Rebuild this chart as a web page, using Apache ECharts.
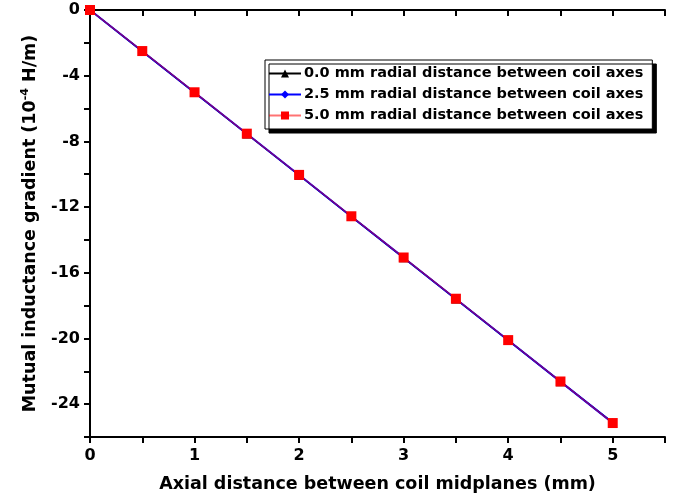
<!DOCTYPE html>
<html>
<head>
<meta charset="utf-8">
<script src="https://cdn.jsdelivr.net/npm/echarts@6/dist/echarts.min.js"></script>
<style>
  html, body { margin: 0; padding: 0; background: #fff; }
  #chart { width: 679px; height: 501px; }
</style>
</head>
<body>
<div id="chart"></div>
<script>
// axial distance (mm)
var xVals = [0, 0.5, 1, 1.5, 2, 2.5, 3, 3.5, 4, 4.5, 5];
// gradient values (10^-4 H/m)
var r00 = [0, -2.52, -5.03, -7.55, -10.06, -12.58, -15.09, -17.6, -20.12, -22.63, -25.13];
var r25 = [0, -2.51, -5.02, -7.54, -10.05, -12.57, -15.08, -17.6, -20.11, -22.63, -25.14];
var r50 = [0, -2.5, -5.01, -7.53, -10.04, -12.56, -15.07, -17.58, -20.1, -22.62, -25.15];
var names = [
  "0.0 mm radial distance between coil axes",
  "2.5 mm radial distance between coil axes",
  "5.0 mm radial distance between coil axes"
];

function pairs(v) {
  return xVals.map(function (x, i) { return [x, v[i]]; });
}

var font = "DejaVu Sans";

var chart = echarts.init(document.getElementById("chart"));

var option = {
  animation: false,
  backgroundColor: "#fff",
  textStyle: { fontFamily: font },
  grid: { left: 90, right: 14, top: 10, bottom: 64, containLabel: false },
  legend: {
    left: 265, top: 60,
    orient: "vertical",
    itemWidth: 32, itemHeight: 10, itemGap: 6,
    padding: [6, 9, 6, 3],
    backgroundColor: "#fff",
    borderColor: "#000", borderWidth: 1,
    shadowColor: "#000", shadowBlur: 0, shadowOffsetX: 4, shadowOffsetY: 4,
    textStyle: { fontFamily: font, fontWeight: "bold", fontSize: 14.5, color: "#000", padding: [0, 0, 0, -2] },
    data: names
  },
  xAxis: [{
    type: "value", min: 0, max: 5.5, interval: 0.5,
    name: "Axial distance between coil midplanes (mm)",
    nameLocation: "middle", nameGap: 38,
    nameTextStyle: { fontFamily: font, fontWeight: "bold", fontSize: 17.5, color: "#000" },
    axisLine: { onZero: false, lineStyle: { color: "#000", width: 2 } },
    axisTick: { inside: false, length: 6, lineStyle: { color: "#000", width: 2 } },
    axisLabel: {
      fontFamily: font, fontWeight: "bold", fontSize: 16, color: "#000", margin: 11,
      formatter: function (v) { return v % 1 === 0 ? String(v) : ""; }
    },
    splitLine: { show: false }
  }, {
    type: "value", min: 0, max: 5.5, interval: 0.5, position: "top",
    axisLine: { lineStyle: { color: "#000", width: 2 } },
    axisTick: { inside: true, length: 6, lineStyle: { color: "#000", width: 2 } },
    axisLabel: { show: false },
    splitLine: { show: false }
  }],
  yAxis: [{
    type: "value", min: -26, max: 0, interval: 2,
    name: "Mutual inductance gradient (10{sup|-4} H/m)",
    nameLocation: "middle", nameGap: 50, nameRotate: 90,
    nameTextStyle: {
      fontFamily: font, fontWeight: "bold", fontSize: 17.5, color: "#000",
      rich: { sup: { fontFamily: font, fontWeight: "bold", fontSize: 11, color: "#000", verticalAlign: "top", padding: [0, 0, 9, 0] } }
    },
    axisLine: { onZero: false, lineStyle: { color: "#000", width: 2 } },
    axisTick: { inside: false, length: 6, lineStyle: { color: "#000", width: 2 } },
    axisLabel: {
      fontFamily: font, fontWeight: "bold", fontSize: 16, color: "#000", margin: 10,
      formatter: function (v) { return v % 4 === 0 ? String(v) : ""; }
    },
    splitLine: { show: false }
  }, {
    type: "value", min: -26, max: 0, interval: 2, position: "right",
    axisLine: { lineStyle: { color: "#000", width: 2 } },
    axisTick: { inside: true, length: 6, lineStyle: { color: "#000", width: 2 } },
    axisLabel: { show: false },
    splitLine: { show: false }
  }],
  series: [{
    name: names[0], type: "line", data: pairs(r00),
    symbol: "triangle", symbolSize: 9,
    lineStyle: { color: "#000", width: 1.5 },
    itemStyle: { color: "#000" }
  }, {
    name: names[1], type: "line", data: pairs(r25),
    symbol: "diamond", symbolSize: 8,
    lineStyle: { color: "#0000ff", width: 2 },
    itemStyle: { color: "#0000ff" }
  }, {
    name: names[2], type: "line", data: pairs(r50),
    symbol: "rect", symbolSize: 10,
    lineStyle: { color: "#ff0000", width: 1.2, opacity: 0.55 },
    itemStyle: { color: "#ff0000" }
  }]
};

chart.setOption(option);
</script>
</body>
</html>
